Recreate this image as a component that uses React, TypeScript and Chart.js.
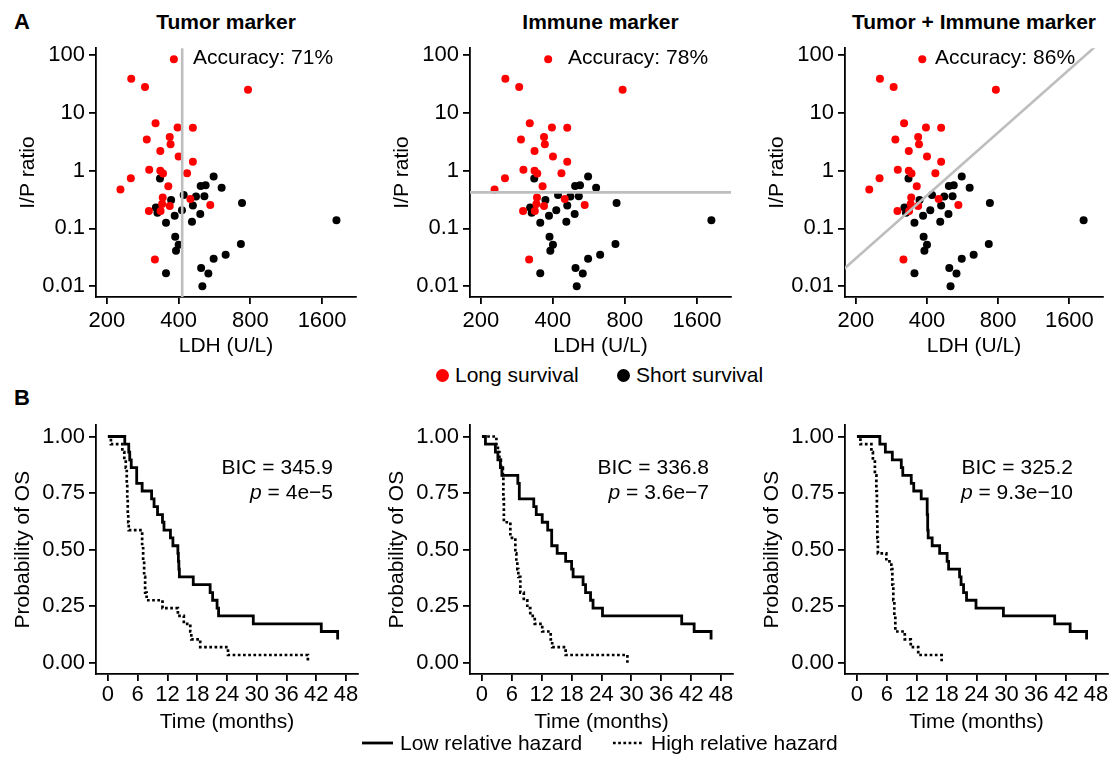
import React, { useEffect, useRef } from 'react';
import { Chart, registerables } from 'chart.js';
Chart.register(...registerables);

const FONT = "'Liberation Sans', Arial, Helvetica, sans-serif";

// ---------- Panel A data (LDH vs I/P ratio) ----------
const ldhLong = [382, 253, 289, 782, 320, 396, 459, 294, 367, 370, 335, 400, 459, 301, 335, 344, 434, 252, 228, 362, 343, 448, 543, 341, 367, 300, 336, 318];
const ipLong = [85, 38.9, 28.1, 25, 6.6, 5.58, 5.5, 3.45, 3.83, 2.87, 2.18, 1.75, 1.42, 1.04, 1.0, 0.89, 0.9, 0.74, 0.47, 0.535, 0.344, 0.322, 0.255, 0.265, 0.245, 0.2, 0.2, 0.029];
const ldhShort = [334, 561, 495, 519, 606, 420, 473, 513, 372, 321, 459, 738, 413, 326, 493, 385, 455, 354, 1838, 387, 400, 390, 730, 630, 561, 497, 533, 354, 503];
const ipShort = [0.73, 0.79, 0.54, 0.556, 0.508, 0.377, 0.357, 0.362, 0.31, 0.23, 0.25, 0.275, 0.207, 0.186, 0.177, 0.165, 0.131, 0.126, 0.138, 0.072, 0.052, 0.041, 0.054, 0.035, 0.03, 0.0207, 0.0166, 0.0167, 0.01];

const ldhTicks = [200, 400, 800, 1600];
const ipTicks = [0.01, 0.1, 1, 10, 100];
const ipTickLabels = ['0.01', '0.1', '1', '10', '100'];

const scatterTitles = ['Tumor marker', 'Immune marker', 'Tumor + Immune marker'];
const accuracyLabels = ['Accuracy: 71%', 'Accuracy: 78%', 'Accuracy: 86%'];

// classification boundaries
const tumorCutLDH = [414, 414];
const tumorCutIP = [0.001, 1000];
const immuneCutLDH = [100, 5000];
const immuneCutIP = [0.42, 0.42];
const comboCutLDH = [150, 2400];
const comboCutIP = [0.0107, 244];

// ---------- Panel B data (Kaplan-Meier) ----------
const timeTicks = [0, 6, 12, 18, 24, 30, 36, 42, 48];
const survTicks = [0, 0.25, 0.5, 0.75, 1];

const tumorLowTime = [0, 3.4, 4.2, 4.4, 4.7, 5.8, 6.9, 8.8, 9.3, 10.0, 11.0, 11.3, 12.6, 13.1, 14.1, 14.2, 14.3, 14.4, 17.2, 20.6, 21.1, 22.0, 22.3, 29.3, 43.0, 46.3];
const tumorLowSurv = [1, 0.966, 0.931, 0.897, 0.862, 0.793, 0.759, 0.724, 0.69, 0.655, 0.621, 0.586, 0.552, 0.517, 0.483, 0.448, 0.414, 0.379, 0.345, 0.31, 0.276, 0.241, 0.207, 0.172, 0.138, 0.103];
const tumorHighTime = [0, 0.6, 2.9, 3.3, 3.6, 3.8, 3.9, 4.0, 4.1, 4.2, 6.9, 7.1, 7.3, 7.5, 7.8, 11.0, 14.1, 15.3, 16.6, 16.8, 18.6, 24.2, 40.3];
const tumorHighSurv = [1, 0.966, 0.931, 0.897, 0.862, 0.793, 0.724, 0.655, 0.621, 0.586, 0.517, 0.448, 0.379, 0.31, 0.276, 0.241, 0.207, 0.172, 0.138, 0.103, 0.069, 0.034, 0];

const immuneLowTime = [0, 0.7, 2.7, 3.2, 3.7, 4.0, 7.2, 7.5, 10.4, 10.9, 12.1, 13.2, 14.0, 15.1, 16.8, 18.0, 18.3, 20.3, 20.8, 21.8, 22.3, 24.2, 40.1, 42.6, 46.0];
const immuneLowSurv = [1, 0.966, 0.931, 0.897, 0.862, 0.828, 0.793, 0.724, 0.69, 0.655, 0.621, 0.586, 0.517, 0.483, 0.448, 0.414, 0.379, 0.345, 0.31, 0.276, 0.241, 0.207, 0.172, 0.138, 0.103];
const immuneHighTime = [0, 2.9, 3.2, 3.5, 3.8, 4.2, 4.3, 4.4, 5.7, 6.7, 6.9, 7.1, 7.3, 7.7, 8.4, 9.1, 9.7, 10.6, 12.1, 13.8, 14.1, 16.8, 29.2];
const immuneHighSurv = [1, 0.966, 0.931, 0.897, 0.862, 0.828, 0.724, 0.621, 0.552, 0.483, 0.448, 0.414, 0.379, 0.31, 0.276, 0.241, 0.207, 0.172, 0.138, 0.103, 0.069, 0.034, 0];

const comboLowTime = [0, 4.6, 5.7, 7.1, 8.9, 9.2, 10.9, 11.4, 12.9, 14.1, 14.2, 14.3, 15.1, 16.6, 18.1, 18.4, 20.6, 20.9, 21.4, 22.0, 23.9, 29.4, 39.7, 42.8, 46.1];
const comboLowSurv = [1, 0.966, 0.931, 0.897, 0.862, 0.828, 0.793, 0.759, 0.724, 0.655, 0.586, 0.552, 0.517, 0.483, 0.448, 0.414, 0.379, 0.345, 0.31, 0.276, 0.241, 0.207, 0.172, 0.138, 0.103];
const comboHighTime = [0, 0.7, 2.9, 3.2, 3.6, 3.9, 4.0, 4.1, 4.2, 5.9, 6.9, 7.1, 7.3, 7.5, 7.7, 9.6, 10.8, 12.3, 17.0];
const comboHighSurv = [1, 0.966, 0.931, 0.897, 0.828, 0.759, 0.655, 0.552, 0.483, 0.448, 0.414, 0.345, 0.276, 0.207, 0.138, 0.103, 0.069, 0.034, 0];

const bicLabels = ['BIC = 345.9', 'BIC = 336.8', 'BIC = 325.2'];
const pValueLabels = ['4e\u22125', '3.6e\u22127', '9.3e\u221210'];

// ---------- layout ----------
const scatterLefts = [96, 470, 845];
const scatterRights = [356, 731, 1103];
const kmLefts = [96, 470, 845];
const kmRights = [358, 733, 1108];
const accuracyOffsets = [97, 98, 90];
const bicRightOffsets = [237, 239, 228];

const TEXT_SIZE = 21;
const TICK_SIZE = 22;

const pts = (xs: number[], ys: number[]) => xs.map((x, i) => ({ x, y: ys[i] }));

const axisCommon = (tickLen: number) => ({
  grid: { display: true, drawOnChartArea: false, drawTicks: true, tickLength: tickLen, color: '#000', tickColor: '#000', lineWidth: 1.8, tickWidth: 1.8 },
  border: { display: true, color: '#000', width: 1.8 },
});

function ScatterPanel({ idx }: { idx: number }) {
  const ref = useRef<HTMLCanvasElement | null>(null);
  const yW = 90, padT = 12, padR = 8, xH = 64, CT = 43, CB = 297;
  const CL = scatterLefts[idx], CR = scatterRights[idx];
  const w = yW + (CR - CL) + padR;
  const h = padT + (CB - CT) + xH;
  useEffect(() => {
    const cutX = [tumorCutLDH, immuneCutLDH, comboCutLDH][idx];
    const cutY = [tumorCutIP, immuneCutIP, comboCutIP][idx];
    const textPlugin = {
      id: 'acc' + idx,
      afterDraw(chart: any) {
        const { ctx, chartArea } = chart;
        ctx.save();
        ctx.font = `${TEXT_SIZE}px ${FONT}`;
        ctx.fillStyle = '#000';
        ctx.textAlign = 'left';
        ctx.textBaseline = 'middle';
        ctx.fillText(accuracyLabels[idx], chartArea.left + accuracyOffsets[idx], chartArea.top + 10);
        ctx.restore();
      },
    };
    const tickFont = { family: FONT, size: TICK_SIZE };
    const titleFont = { family: FONT, size: TEXT_SIZE };
    const chart = new Chart(ref.current as HTMLCanvasElement, {
      type: 'scatter',
      data: {
        datasets: [
          { data: pts(cutX, cutY), showLine: true, borderColor: '#bebebe', borderWidth: 2.6, pointRadius: 0, order: 0 } as any,
          { data: pts(ldhLong, ipLong), backgroundColor: '#ff0000', pointBackgroundColor: '#ff0000', pointBorderWidth: 0, pointRadius: 4, order: 1 },
          { data: pts(ldhShort, ipShort), backgroundColor: '#000', pointBackgroundColor: '#000', pointBorderWidth: 0, pointRadius: 4, order: 2 },
        ],
      },
      options: {
        responsive: false,
        animation: false,
        devicePixelRatio: 1,
        events: [],
        layout: { padding: { top: padT, right: padR, left: 0, bottom: 0 } },
        plugins: { legend: { display: false }, tooltip: { enabled: false } },
        scales: {
          x: {
            type: 'logarithmic', min: 180, max: 2220,
            afterBuildTicks: (ax: any) => { ax.ticks = ldhTicks.map((v) => ({ value: v })); },
            afterFit: (s: any) => { s.height = xH; },
            ticks: { callback: (v: any) => String(v), font: tickFont, color: '#000', padding: 4, autoSkip: false, maxRotation: 0 },
            title: { display: true, text: 'LDH (U/L)', font: titleFont, color: '#000', padding: { top: 0, bottom: 2.4 } },
            ...axisCommon(7),
          } as any,
          y: {
            type: 'logarithmic', min: 0.00651, max: 131.4,
            afterBuildTicks: (ax: any) => { ax.ticks = ipTicks.map((v) => ({ value: v })); },
            afterFit: (s: any) => { s.width = yW; },
            ticks: { callback: (v: any) => ipTickLabels[ipTicks.indexOf(Number(v))] ?? String(v), font: tickFont, color: '#000', padding: 4, autoSkip: false },
            title: { display: true, text: 'I/P ratio', font: titleFont, color: '#000', padding: { top: 9.4, bottom: 0 } },
            ...axisCommon(7),
          } as any,
        },
      },
      plugins: [textPlugin],
    });
    return () => chart.destroy();
  }, [idx]);
  return (
    <canvas ref={ref} width={w} height={h}
      style={{ position: 'absolute', left: CL - yW, top: CT - padT, width: w, height: h }} />
  );
}

function KMPanel({ idx }: { idx: number }) {
  const ref = useRef<HTMLCanvasElement | null>(null);
  const yW = 90, padT = 12, padR = 3, xH = 62, CT = 420, CB = 674;
  const CL = kmLefts[idx], CR = kmRights[idx];
  const w = yW + (CR - CL) + padR;
  const h = padT + (CB - CT) + xH;
  useEffect(() => {
    const lowT = [tumorLowTime, immuneLowTime, comboLowTime][idx];
    const lowS = [tumorLowSurv, immuneLowSurv, comboLowSurv][idx];
    const highT = [tumorHighTime, immuneHighTime, comboHighTime][idx];
    const highS = [tumorHighSurv, immuneHighSurv, comboHighSurv][idx];
    const textPlugin = {
      id: 'bic' + idx,
      afterDraw(chart: any) {
        const { ctx, chartArea } = chart;
        const right = chartArea.left + bicRightOffsets[idx];
        ctx.save();
        ctx.fillStyle = '#000';
        ctx.textBaseline = 'middle';
        ctx.font = `${TEXT_SIZE}px ${FONT}`;
        ctx.textAlign = 'right';
        ctx.fillText(bicLabels[idx], right, chartArea.top + 43);
        const rest = ' = ' + pValueLabels[idx];
        const wRest = ctx.measureText(rest).width;
        ctx.fillText(rest, right, chartArea.top + 68);
        ctx.font = `italic ${TEXT_SIZE}px ${FONT}`;
        ctx.fillText('p', right - wRest, chartArea.top + 68);
        ctx.restore();
      },
    };
    const tickFont = { family: FONT, size: TICK_SIZE };
    const titleFont = { family: FONT, size: TEXT_SIZE };
    const chart = new Chart(ref.current as HTMLCanvasElement, {
      type: 'line',
      data: {
        datasets: [
          { data: pts(lowT, lowS), borderColor: '#000', borderWidth: 2.8, pointRadius: 0, stepped: true, fill: false, borderCapStyle: 'butt', borderJoinStyle: 'miter' } as any,
          { data: pts(highT, highS), borderColor: '#000', borderWidth: 2.7, borderDash: [2.7, 2.5], pointRadius: 0, stepped: true, fill: false, borderCapStyle: 'butt', borderJoinStyle: 'miter' } as any,
        ],
      },
      options: {
        responsive: false,
        animation: false,
        devicePixelRatio: 1,
        events: [],
        layout: { padding: { top: padT, right: padR, left: 0, bottom: 0 } },
        plugins: { legend: { display: false }, tooltip: { enabled: false } },
        scales: {
          x: {
            type: 'linear', min: -2.4, max: 50.4,
            afterBuildTicks: (ax: any) => { ax.ticks = timeTicks.map((v) => ({ value: v })); },
            afterFit: (s: any) => { s.height = xH; },
            ticks: { callback: (v: any) => String(v), font: tickFont, color: '#000', padding: 1, autoSkip: false, maxRotation: 0 },
            title: { display: true, text: 'Time (months)', font: titleFont, color: '#000', padding: { top: 0, bottom: 1.4 } },
            ...axisCommon(7),
          } as any,
          y: {
            type: 'linear', min: -0.05, max: 1.05,
            afterBuildTicks: (ax: any) => { ax.ticks = survTicks.map((v) => ({ value: v })); },
            afterFit: (s: any) => { s.width = yW; },
            ticks: { callback: (v: any) => Number(v).toFixed(2), font: tickFont, color: '#000', padding: 4, autoSkip: false },
            title: { display: true, text: 'Probability of OS', font: titleFont, color: '#000', padding: { top: 4.4, bottom: 0 } },
            ...axisCommon(7),
          } as any,
        },
      },
      plugins: [textPlugin],
    });
    return () => chart.destroy();
  }, [idx]);
  return (
    <canvas ref={ref} width={w} height={h}
      style={{ position: 'absolute', left: CL - yW, top: CT - padT, width: w, height: h }} />
  );
}

const textStyle = (left: number, centerY: number, extra: any = {}) => ({
  position: 'absolute' as const,
  left,
  top: centerY - 12,
  font: `${TEXT_SIZE}px ${FONT}`,
  lineHeight: '24px',
  whiteSpace: 'nowrap' as const,
  color: '#000',
  ...extra,
});

export default function App() {
  const titleCenters = scatterLefts.map((l, i) => (l + scatterRights[i]) / 2);
  return (
    <div style={{ position: 'absolute', left: 0, top: 0, width: 1111, height: 762, background: '#fff', overflow: 'hidden', fontFamily: FONT }}>
      <div style={textStyle(14, 22, { fontWeight: 'bold', fontSize: 22 })}>A</div>
      <div style={textStyle(14, 398, { fontWeight: 'bold', fontSize: 22 })}>B</div>
      {scatterTitles.map((t, i) => (
        <div key={t} style={textStyle(titleCenters[i] - 200, 22, { width: 400, textAlign: 'center', fontWeight: 'bold' })}>{t}</div>
      ))}
      {[0, 1, 2].map((i) => <ScatterPanel key={'s' + i} idx={i} />)}
      {[0, 1, 2].map((i) => <KMPanel key={'k' + i} idx={i} />)}

      {/* legend A */}
      <div style={{ position: 'absolute', left: 435.5, top: 368.5, width: 13, height: 13, borderRadius: '50%', background: '#ff0000' }} />
      <div style={textStyle(455, 375)}>Long survival</div>
      <div style={{ position: 'absolute', left: 616.5, top: 368.5, width: 13, height: 13, borderRadius: '50%', background: '#000' }} />
      <div style={textStyle(636, 375)}>Short survival</div>

      {/* legend B */}
      <svg style={{ position: 'absolute', left: 0, top: 730 }} width={1111} height={28}>
        <line x1={362} y1={13} x2={393} y2={13} stroke="#000" strokeWidth={2.8} />
        <line x1={613} y1={13} x2={643} y2={13} stroke="#000" strokeWidth={2.7} strokeDasharray="2.7 2.5" />
      </svg>
      <div style={textStyle(400, 743)}>Low relative hazard</div>
      <div style={textStyle(651, 743)}>High relative hazard</div>
    </div>
  );
}
